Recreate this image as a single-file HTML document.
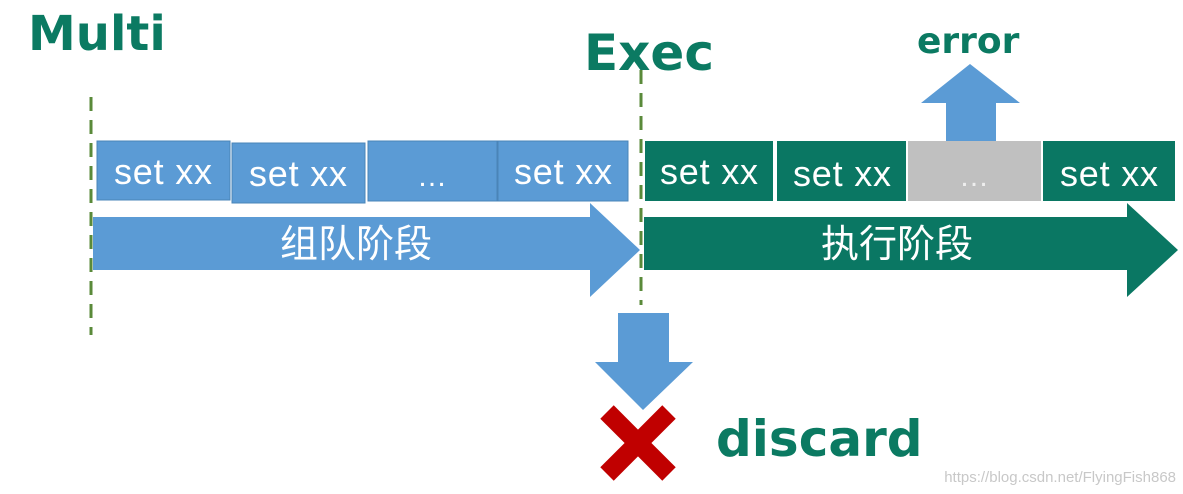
<!DOCTYPE html>
<html><head><meta charset="utf-8"><style>
body{margin:0;width:1183px;height:494px;background:#fff;overflow:hidden;position:relative;font-family:"Liberation Sans","Noto Sans CJK SC",sans-serif}
.t{position:absolute;color:#0b7a62;font-weight:bold;font-family:"DejaVu Sans","Liberation Sans",sans-serif}
</style></head><body>
<svg width="1183" height="494" style="position:absolute;left:0;top:0" font-family="Liberation Sans, Noto Sans CJK SC, sans-serif">
<line x1="91" y1="97" x2="91" y2="335" stroke="#5a8a3a" stroke-width="3" stroke-dasharray="14,9"/>
<line x1="641" y1="70" x2="641" y2="305" stroke="#5a8a3a" stroke-width="3" stroke-dasharray="14,9"/>
<g fill="#5b9bd5" stroke="#4a84b8" stroke-width="1">
<rect x="97" y="141" width="133" height="59"/>
<rect x="232" y="143" width="133" height="60"/>
<rect x="368" y="141" width="129" height="60"/>
<rect x="498" y="141" width="130" height="60"/>
</g>
<polygon points="93,217 590,217 590,203 640,250 590,297 590,270 93,270" fill="#5b9bd5"/>
<g fill="#0a7763">
<rect x="645" y="141" width="128" height="60"/>
<rect x="777" y="141" width="129" height="60"/>
<rect x="1043" y="141" width="132" height="60"/>
<polygon points="644,217 1127,217 1127,203 1178,250 1127,297 1127,270 644,270"/>
</g>
<rect x="908" y="141" width="133" height="60" fill="#c0c0c0"/>
<polygon points="946,141 946,103 921,103 970,64 1020,103 996,103 996,141" fill="#5b9bd5"/>
<polygon points="618,313 669,313 669,362 693,362 643,410 595,362 618,362" fill="#5b9bd5"/>
<g stroke="#c00000" stroke-width="19"><line x1="607" y1="412" x2="669" y2="474"/><line x1="669" y1="412" x2="607" y2="474"/></g>
<g fill="#fff" font-size="36">
<text x="163" y="184" text-anchor="middle" textLength="98">set xx</text>
<text x="298" y="186" text-anchor="middle" textLength="98">set xx</text>
<text x="432" y="186" text-anchor="middle" font-size="30">…</text>
<text x="563" y="184" text-anchor="middle" textLength="98">set xx</text>
<text x="709" y="184" text-anchor="middle" textLength="98">set xx</text>
<text x="842" y="186" text-anchor="middle" textLength="98">set xx</text>
<text x="974" y="186" text-anchor="middle" fill="#eee" font-size="30">…</text>
<text x="1109" y="186" text-anchor="middle" textLength="98">set xx</text>
<text x="356" y="257" text-anchor="middle" font-size="38">组队阶段</text>
<text x="897" y="257" text-anchor="middle" font-size="38">执行阶段</text>
</g>
<text x="1176" y="482" text-anchor="end" font-size="15" fill="#c8c8c8">https://blog.csdn.net/FlyingFish868</text>
</svg>
<div class="t" style="left:28px;top:6px;font-size:48px">Multi</div>
<div class="t" style="left:584px;top:24px;font-size:50px">Exec</div>
<div class="t" style="left:917px;top:21px;font-size:36px">error</div>
<div class="t" style="left:716px;top:410px;font-size:50px">discard</div>
</body></html>
